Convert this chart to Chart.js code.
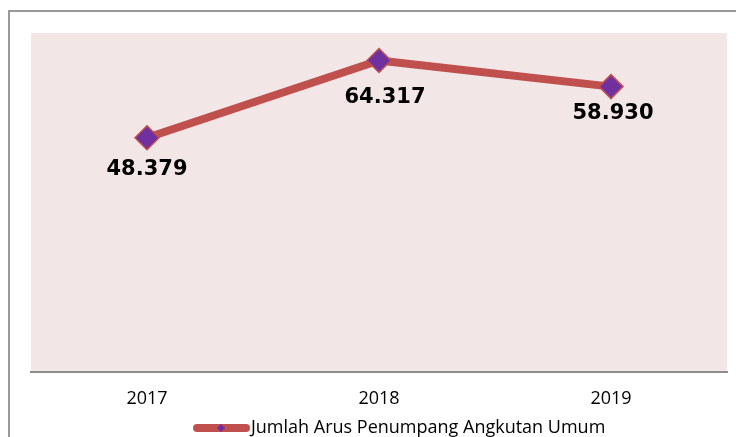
<!DOCTYPE html>
<html>
<head>
<meta charset="utf-8">
<script src="https://cdn.jsdelivr.net/npm/chart.js@4/dist/chart.umd.min.js"></script>
<style>
  html, body { margin: 0; padding: 0; background: #fff; overflow: hidden; }
  #wrap { position: relative; width: 736px; height: 437px; }
  #frame {
    position: absolute; left: 8px; top: 10px; width: 900px; height: 600px;
    border-left: 2px solid #999; border-top: 2px solid #999;
  }
  canvas { position: absolute; left: 0; top: 0; }
</style>
</head>
<body>
<div id="wrap">
  <div id="frame"></div>
  <canvas id="arusChart" width="736" height="437"></canvas>
</div>
<script>
// data
const years = ["2017", "2018", "2019"];
const penumpang = [48379, 64317, 58930];
const seriesName = "Jumlah Arus Penumpang Angkutan Umum";

const lineColor = "#c0504d";
const markerColor = "#7030a0";

// number format with dot as thousands separator
function fmt(v) {
  return String(v).replace(/\B(?=(\d{3})+(?!\d))/g, ".");
}

// plot area background
const plotBg = {
  id: "plotBg",
  beforeDraw(chart) {
    const { ctx, chartArea } = chart;
    ctx.save();
    ctx.fillStyle = "#f2e7e6";
    ctx.fillRect(chartArea.left, chartArea.top, chartArea.right - chartArea.left, chartArea.bottom - chartArea.top);
    ctx.restore();
  },
};

// value labels below the points (offsets as placed in the original)
const labelOffsets = [[0, 32], [6, 37], [2, 27]];
const valueLabels = {
  id: "valueLabels",
  afterDatasetsDraw(chart) {
    const ctx = chart.ctx;
    const meta = chart.getDatasetMeta(0);
    ctx.save();
    ctx.font = "bold 21px 'DejaVu Sans'";
    ctx.fillStyle = "#000";
    ctx.textAlign = "center";
    ctx.textBaseline = "middle";
    meta.data.forEach((pt, i) => {
      const off = labelOffsets[i];
      ctx.fillText(fmt(penumpang[i]), pt.x + off[0], pt.y + off[1]);
    });
    ctx.restore();
  },
};

// legend drawn by hand: thick line with a small diamond
const lineLegend = {
  id: "lineLegend",
  afterDraw(chart) {
    const ctx = chart.ctx;
    const y = 428;
    ctx.save();
    ctx.strokeStyle = lineColor;
    ctx.lineWidth = 8;
    ctx.lineCap = "round";
    ctx.beginPath();
    ctx.moveTo(197, y);
    ctx.lineTo(246, y);
    ctx.stroke();
    ctx.fillStyle = markerColor;
    ctx.beginPath();
    ctx.moveTo(221, y - 4);
    ctx.lineTo(225, y);
    ctx.lineTo(221, y + 4);
    ctx.lineTo(217, y);
    ctx.closePath();
    ctx.fill();
    ctx.fillStyle = "#000";
    ctx.font = "18px 'Open Sans'";
    ctx.textAlign = "left";
    ctx.textBaseline = "middle";
    ctx.fillText(seriesName, 251, y);
    ctx.restore();
  },
};

const ctx = document.getElementById("arusChart").getContext("2d");
const arusChart = new Chart(ctx, {
  type: "line",
  data: {
    labels: years,
    datasets: [
      {
        label: seriesName,
        data: penumpang,
        borderColor: lineColor,
        borderWidth: 8,
        borderJoinStyle: "round",
        tension: 0,
        pointStyle: "rectRot",
        pointRadius: 12,
        pointBackgroundColor: markerColor,
        pointBorderColor: lineColor,
        pointBorderWidth: 1.5,
      },
    ],
  },
  options: {
    responsive: false,
    animation: false,
    layout: {
      autoPadding: false,
      padding: { left: 31, right: 9, top: 33, bottom: 0 },
    },
    scales: {
      x: {
        offset: true,
        grid: { display: false, drawTicks: false },
        border: { display: true, color: "#8c8c8c", width: 2 },
        ticks: {
          color: "#000",
          font: { family: "'Open Sans'", size: 18 },
          padding: 16,
        },
        afterFit(scale) {
          scale.height = 65;
          scale.paddingLeft = 0;
          scale.paddingRight = 0;
        },
      },
      y: {
        display: false,
        min: 0,
        max: 70000,
      },
    },
    plugins: {
      legend: { display: false },
      tooltip: { enabled: false },
    },
  },
  plugins: [plotBg, valueLabels, lineLegend],
});
</script>
</body>
</html>
